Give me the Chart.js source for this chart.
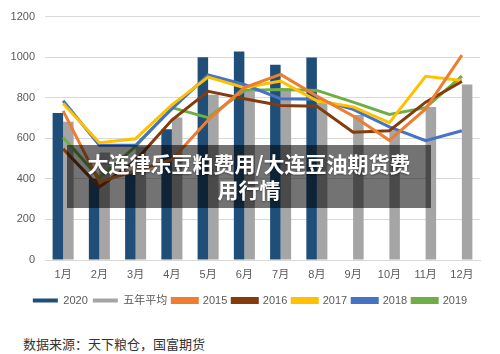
<!DOCTYPE html>
<html>
<head>
<meta charset="utf-8">
<script src="https://cdn.jsdelivr.net/npm/chart.js@4"></script>
<style>
  body { margin: 0; width: 500px; height: 354px; position: relative; background: #fff; overflow: hidden; }
  #wrap { position: absolute; left: 0; top: 0; width: 500px; height: 320px; }
  .banner {
    position: absolute; left: 67px; top: 145px; width: 364px; height: 63px;
    background: rgba(0, 0, 0, 0.55); color: #fff; text-align: center;
    font: bold 21px/26px "Noto Sans CJK SC", sans-serif; padding-top: 5px; box-sizing: border-box;
    text-shadow: 0 1px 2px rgba(0,0,0,0.4);
  }
  .src { position: absolute; left: 23px; top: 334px; font: 13px "Noto Sans CJK SC", sans-serif; color: #333; }
</style>
</head>
<body>
<div id="wrap"><canvas id="chart" width="500" height="320"></canvas></div>
<div class="banner">大连律乐豆粕费用/大连豆油期货费<br>用行情</div>
<div class="src">数据来源：天下粮仓，国富期货</div>
<script>
// months on the x axis
const months = ['1月', '2月', '3月', '4月', '5月', '6月', '7月', '8月', '9月', '10月', '11月', '12月'];

// bars
const y2020 = [725, 400, 440, 645, 1000, 1028, 962, 998, null, null, null, null];
const avg5 = [682, 530, 560, 702, 815, 828, 845, 775, 715, 640, 754, 865];

// lines
const y2015 = [735, 385, 440, 495, 690, 850, 915, 808, 710, 590, 745, 1010];
const y2016 = [548, 360, 490, 690, 832, 795, 762, 758, 630, 637, 778, 880];
const y2017 = [772, 578, 598, 765, 902, 850, 882, 785, 755, 677, 906, 885];
const y2018 = [785, 566, 566, 745, 912, 865, 795, 792, 743, 656, 588, 637];
const y2019 = [604, 405, 560, 751, 702, 836, 840, 836, 778, 718, 751, 906];

const yTicks = [0, 200, 400, 600, 800, 1000, 1200];

const tickFont = { family: '"Liberation Sans", "Noto Sans CJK SC", sans-serif', size: 11 };

function lineSet(label, data, color) {
  return {
    type: 'line', label, data, borderColor: color, backgroundColor: color,
    borderWidth: 3, pointRadius: 0, tension: 0, order: 0,
  };
}

// nudge the legend so it is centred on the page, not on the plot box
const shiftLegend = {
  id: 'shiftLegend',
  afterLayout(chart) {
    chart.legend.left += 10;
    chart.legend.right += 10;
  },
};

new Chart(document.getElementById('chart'), {
  data: {
    labels: months,
    datasets: [
      { type: 'bar', label: '2020', data: y2020, backgroundColor: '#1f4e79', order: 1 },
      { type: 'bar', label: '五年平均', data: avg5, backgroundColor: '#a5a5a5', order: 1 },
      lineSet('2015', y2015, '#ed7d31'),
      lineSet('2016', y2016, '#843c0c'),
      lineSet('2017', y2017, '#ffc000'),
      lineSet('2018', y2018, '#4472c4'),
      lineSet('2019', y2019, '#70ad47'),
    ],
  },
  options: {
    responsive: false,
    animation: false,
    devicePixelRatio: 1,
    layout: { padding: { left: 0, right: 20, top: 15, bottom: 4 } },
    datasets: { bar: { categoryPercentage: 0.58, barPercentage: 1.0 } },
    scales: {
      x: {
        grid: { display: false, drawTicks: false },
        border: { display: true, color: '#d9d9d9' },
        ticks: { color: '#595959', font: tickFont, padding: 8 },
        afterFit: (s) => { s.height = 30; },
      },
      y: {
        min: 0, max: 1200,
        afterBuildTicks: (s) => { s.ticks = yTicks.map((v) => ({ value: v })); },
        grid: { color: '#d9d9d9', drawTicks: false },
        border: { display: false },
        ticks: { color: '#595959', font: tickFont, padding: 10, callback: (v) => String(v) },
        afterFit: (s) => { s.width = 45; },
      },
    },
    plugins: {
      tooltip: { enabled: false },
      legend: {
        position: 'bottom',
        labels: {
          boxWidth: 25, boxHeight: 4, padding: 5, color: '#595959', font: tickFont,
          sort: (a, b) => a.datasetIndex - b.datasetIndex,
        },
      },
    },
  },
  plugins: [shiftLegend],
});
</script>
</body>
</html>
